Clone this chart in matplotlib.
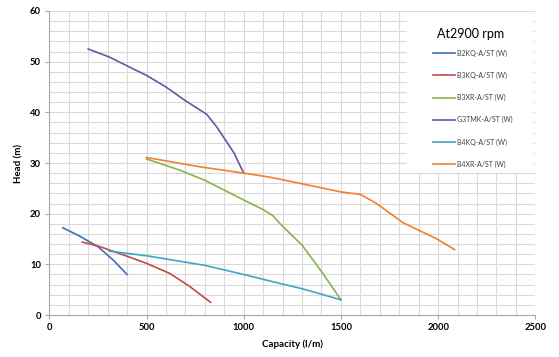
import matplotlib
matplotlib.use("Agg")
import matplotlib.pyplot as plt
from matplotlib.patches import Rectangle
from matplotlib.ticker import MultipleLocator

plt.rcParams['font.family'] = ['Lato', 'DejaVu Sans']

labels = ["B2KQ-A/ST (W)", "B3KQ-A/ST (W)", "B3XR-A/ST (W)", "G3TMK-A/ST (W)", "B4KQ-A/ST (W)", "B4XR-A/ST (W)"]
colors = ["#3F6EB6", "#BE4B48", "#8AB34A", "#71529E", "#3FA5C4", "#EE8030"]

b2kq_x = [70, 150, 250, 330, 400]
b2kq_y = [17.2, 15.7, 13.5, 10.8, 8.0]
b3kq_x = [170, 260, 400, 500, 620, 720, 830]
b3kq_y = [14.4, 13.5, 11.6, 10.2, 8.2, 5.7, 2.5]
b3xr_x = [500, 670, 800, 1000, 1100, 1150, 1190, 1300, 1400, 1500]
b3xr_y = [30.8, 28.6, 26.6, 22.7, 20.8, 19.6, 17.9, 13.8, 8.6, 3.0]
g3tmk_x = [200, 310, 430, 500, 600, 700, 810, 860, 950, 1000]
g3tmk_y = [52.5, 50.9, 48.6, 47.3, 45.0, 42.3, 39.6, 37.2, 32.0, 28.0]
b4kq_x = [310, 500, 800, 1000, 1200, 1300, 1500]
b4kq_y = [12.6, 11.7, 9.8, 8.0, 6.1, 5.2, 3.0]
b4xr_x = [500, 775, 1000, 1135, 1300, 1500, 1600, 1680, 1820, 1990, 2085]
b4xr_y = [31.1, 29.25, 28.0, 27.2, 25.9, 24.3, 23.8, 22.1, 18.2, 15.1, 12.9]

series = [(b2kq_x, b2kq_y), (b3kq_x, b3kq_y), (b3xr_x, b3xr_y),
          (g3tmk_x, g3tmk_y), (b4kq_x, b4kq_y), (b4xr_x, b4xr_y)]

fig = plt.figure(figsize=(5.59, 3.57), dpi=100)
ax = fig.add_axes([0.0882, 0.1176, 0.8694, 0.8516])

for (x, y), lab, c in zip(series, labels, colors):
    ax.plot(x, y, color=c, lw=1.2, label=lab, zorder=3, solid_joinstyle='round')

ax.set_xlim(0, 2500)
ax.set_ylim(0, 60)
ax.xaxis.set_major_locator(MultipleLocator(500))
ax.xaxis.set_minor_locator(MultipleLocator(100))
ax.yaxis.set_major_locator(MultipleLocator(10))
ax.yaxis.set_minor_locator(MultipleLocator(2))
ax.grid(True, which='both', color='#D9D9D9', lw=0.8, zorder=0)
ax.set_axisbelow(True)
for s in ['top', 'right']:
    ax.spines[s].set_visible(False)
for s in ['left', 'bottom']:
    ax.spines[s].set_color('#A6A6A6')
    ax.spines[s].set_linewidth(0.8)
ax.tick_params(which='major', length=3, color='#A6A6A6', labelsize=6.8, pad=3)
ax.tick_params(which='minor', length=0)
for t in ax.get_xticklabels() + ax.get_yticklabels():
    t.set_fontweight('bold')
ax.set_xlabel("Capacity (l/m)", fontsize=7, fontweight='bold', labelpad=5)
ax.set_ylabel("Head (m)", fontsize=7, fontweight='bold', labelpad=5)

# white legend panel
ax.add_patch(Rectangle((0.736, 0.467), 0.26, 0.53, transform=ax.transAxes,
                       facecolor='white', edgecolor='none', zorder=4))
ax.text(0.866, 0.925, "At2900 rpm", transform=ax.transAxes, fontsize=9,
        ha='center', va='center', zorder=6, color='black')
leg = ax.legend(loc='upper left', bbox_to_anchor=(0.79, 0.873), frameon=False,
                fontsize=5, labelspacing=2.16, handlelength=3.2, handletextpad=0.2,
                borderpad=0, borderaxespad=0)
leg.set_zorder(6)
for t in leg.get_texts():
    t.set_color('#404040')

fig.savefig("out.png", dpi=100)
